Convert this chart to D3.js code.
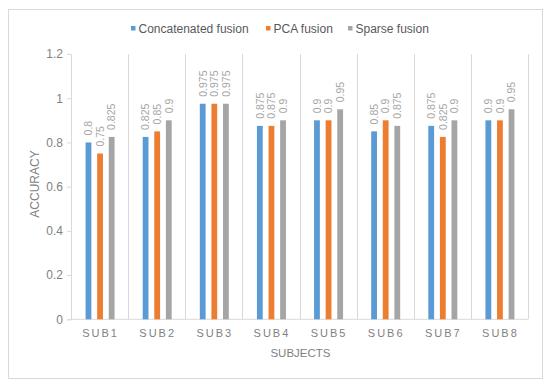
<!DOCTYPE html>
<html>
<head>
<meta charset="utf-8">
<script src="https://cdn.jsdelivr.net/npm/d3@7"></script>
<style>
  body { margin: 0; background: #fff; }
  text { font-family: "Liberation Sans", "DejaVu Sans", sans-serif; }
</style>
</head>
<body>
<div class="chart"></div>
<script>
// data
var subjects = ["SUB1", "SUB2", "SUB3", "SUB4", "SUB5", "SUB6", "SUB7", "SUB8"];
var seriesNames = ["Concatenated fusion", "PCA fusion", "Sparse fusion"];
var concatenated = [0.8, 0.825, 0.975, 0.875, 0.9, 0.85, 0.875, 0.9];
var pca = [0.75, 0.85, 0.975, 0.875, 0.9, 0.9, 0.825, 0.9];
var sparse = [0.825, 0.9, 0.975, 0.9, 0.95, 0.875, 0.9, 0.95];
var yTicks = [0, 0.2, 0.4, 0.6, 0.8, 1, 1.2];

var colors = ["#5B9BD5", "#ED7D31", "#A5A5A5"];
var textColor = "#7f7f7f";

var width = 550, height = 385;
var margin = { top: 54, right: 22, bottom: 65.7, left: 71 };
var chart_width = width - margin.left - margin.right;
var chart_height = height - margin.top - margin.bottom;

var svg = d3.select(".chart").append("svg")
    .attr("width", width).attr("height", height);

// outer frame
svg.append("rect")
    .attr("x", 8.5).attr("y", 9.5)
    .attr("width", 534).attr("height", 369)
    .style("fill", "#fff").style("stroke", "#d9d9d9");

var chart = svg.append("g")
    .attr("transform", "translate(" + margin.left + "," + margin.top + ")");

var x = d3.scaleBand().domain(subjects).range([0, chart_width]);
var xInner = d3.scaleBand().domain(seriesNames).range([-14, 15]).paddingInner(0.5);
var y = d3.scaleLinear().domain([0, 1.2]).range([chart_height, 0]);

// category separators
chart.selectAll(".sep").data(subjects).enter().append("line")
    .attr("class", "sep")
    .attr("x1", function(d){ return Math.round(x(d) + x.bandwidth()) + 0.5; })
    .attr("x2", function(d){ return Math.round(x(d) + x.bandwidth()) + 0.5; })
    .attr("y1", 0).attr("y2", chart_height)
    .style("stroke", "#d9d9d9");

// y axis
var yAxis = chart.append("g")
    .call(d3.axisLeft(y).tickValues(yTicks).tickSize(4).tickPadding(4).tickFormat(function(d){ return d; }));
yAxis.select(".domain").style("stroke", "#d9d9d9");
yAxis.selectAll(".tick line").style("stroke", "#d9d9d9");
yAxis.selectAll("text").style("fill", textColor).style("font-size", "12px");

// x axis line
chart.append("line")
    .attr("x1", 0).attr("x2", chart_width)
    .attr("y1", chart_height).attr("y2", chart_height)
    .style("stroke", "#d9d9d9");

chart.selectAll(".xlab").data(subjects).enter().append("text")
    .attr("class", "xlab")
    .attr("x", function(d){ return x(d) + x.bandwidth() / 2 + 1; })
    .attr("y", chart_height + 18)
    .attr("text-anchor", "middle")
    .style("letter-spacing", "2px")
    .style("font-size", "11px")
    .style("fill", textColor)
    .text(function(d){ return d; });

// bars
var allSeries = [concatenated, pca, sparse];
allSeries.forEach(function(vals, s){
    var g = chart.append("g");
    g.selectAll("rect").data(vals).enter().append("rect")
        .attr("x", function(d, i){ return x(subjects[i]) + x.bandwidth() / 2 + xInner(seriesNames[s]); })
        .attr("y", function(d){ return y(d); })
        .attr("width", xInner.bandwidth())
        .attr("height", function(d){ return chart_height - y(d); })
        .style("fill", colors[s]);
    g.selectAll("text").data(vals).enter().append("text")
        .attr("transform", function(d, i){
            var cx = x(subjects[i]) + x.bandwidth() / 2 + xInner(seriesNames[s]) + xInner.bandwidth() / 2 + 3.8;
            return "translate(" + cx + "," + (y(d) - 7) + ") rotate(-90)";
        })
        .style("font-size", "10.5px")
        .style("fill", "#a6a6a6")
        .text(function(d){ return d; });
});

// axis titles
svg.append("text")
    .attr("transform", "translate(" + 39 + "," + 184 + ") rotate(-90)")
    .attr("text-anchor", "middle")
    .style("font-size", "12px")
    .style("fill", textColor)
    .text("ACCURACY");

svg.append("text")
    .attr("x", margin.left + chart_width / 2 + 1)
    .attr("y", 357)
    .attr("text-anchor", "middle")
    .style("font-size", "11.5px")
    .style("fill", textColor)
    .text("SUBJECTS");

// legend
var legendX = [131, 266, 348];
var legend = svg.selectAll(".legend").data(seriesNames).enter().append("g")
    .attr("class", "legend")
    .attr("transform", function(d, i){ return "translate(" + legendX[i] + ",28)"; });
legend.append("rect")
    .attr("x", 0).attr("y", -2).attr("width", 4.5).attr("height", 4.5)
    .style("fill", function(d, i){ return colors[i]; });
legend.append("text")
    .attr("x", 7.5).attr("y", 4.5)
    .style("font-size", "12px")
    .style("fill", "#595959")
    .text(function(d){ return d; });
</script>
</body>
</html>
